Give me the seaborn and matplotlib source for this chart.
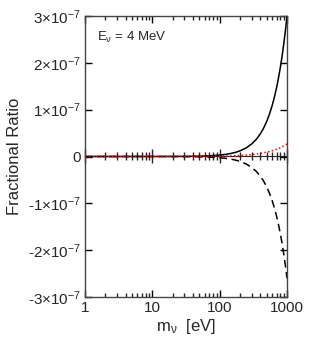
import numpy as np
import pandas as pd
import matplotlib
matplotlib.use("Agg")
import matplotlib.pyplot as plt
import seaborn as sns
from matplotlib.ticker import NullFormatter, LogLocator

sns.set_style("ticks")
plt.rcParams['font.family'] = ['Liberation Sans', 'DejaVu Sans']
plt.rcParams['mathtext.fontset'] = 'custom'
plt.rcParams['mathtext.rm'] = 'Liberation Sans'
plt.rcParams['mathtext.it'] = 'Liberation Sans:italic'
plt.rcParams['mathtext.sf'] = 'Liberation Sans'

# data (values in units of 1e-7)
mass = [1, 10, 20, 30, 50, 70, 100, 125, 150, 175, 200, 250, 300, 350, 400, 450,
        500, 550, 600, 650, 700, 750, 800, 850, 900, 950, 1000]
solid = [0, 0.0003, 0.0012, 0.0027, 0.0075, 0.0147, 0.03, 0.047, 0.0675, 0.092, 0.12,
         0.1875, 0.27, 0.3675, 0.48, 0.6075, 0.75, 0.9075, 1.08, 1.2675, 1.47, 1.6875,
         1.92, 2.1675, 2.43, 2.7075, 3.0]
dashed = [0, -0.0003, -0.001, -0.0023, -0.0065, -0.0127, -0.026, -0.041, -0.0585,
          -0.0796, -0.104, -0.1625, -0.234, -0.3185, -0.416, -0.5265, -0.65, -0.7865,
          -0.936, -1.0985, -1.274, -1.4625, -1.664, -1.8785, -2.106, -2.3465, -2.6]
dotted = [0, 0, 0.0002, 0.0005, 0.0015, 0.003, 0.006, 0.009, 0.013, 0.017, 0.021,
          0.031, 0.042, 0.054, 0.066, 0.08, 0.094, 0.108, 0.123, 0.139, 0.156, 0.173,
          0.191, 0.21, 0.229, 0.249, 0.27]
yticks = [-3, -2, -1, 0, 1, 2, 3]
ytick_labels = [r"-3$\times$10$^{-7}$", r"-2$\times$10$^{-7}$", r"-1$\times$10$^{-7}$", "0",
                r"1$\times$10$^{-7}$", r"2$\times$10$^{-7}$", r"3$\times$10$^{-7}$"]
xticks = [1, 10, 100, 1000]
xtick_labels = ["1", "10", "100", "1000"]

df = pd.DataFrame({"m": mass, "solid": np.array(solid) * 1e-7,
                   "dashed": np.array(dashed) * 1e-7, "dotted": np.array(dotted) * 1e-7})

fig = plt.figure(figsize=(3.10, 3.44), dpi=100)
ax = fig.add_axes([85/310, 1 - 297/344, 202/310, 281/344])

sns.lineplot(data=df, x="m", y="solid", ax=ax, color="black", lw=1.1)
sns.lineplot(data=df, x="m", y="dashed", ax=ax, color="black", lw=1.1, linestyle=(0, (5, 3)))
sns.lineplot(data=df, x="m", y="dotted", ax=ax, color="red", lw=1.1, linestyle=(0, (1, 1.5)))

ax.set_xscale("log")
ax.set_xlim(1, 1000)
ax.set_ylim(-3e-7, 3e-7)
ax.set_yticks([v * 1e-7 for v in yticks])
ax.set_yticklabels(ytick_labels)
ax.set_xticks(xticks)
ax.set_xticklabels(xtick_labels)
ax.xaxis.set_minor_locator(LogLocator(base=10, subs=np.arange(2, 10)))
ax.xaxis.set_minor_formatter(NullFormatter())

ax.tick_params(axis="both", which="major", direction="in", length=5, width=1,
               top=True, right=True, labelsize=11, pad=3, color="black")
ax.tick_params(axis="x", which="minor", direction="in", length=3, width=1,
               top=True, bottom=True)
for s in ax.spines.values():
    s.set_linewidth(1)
    s.set_color("#444444")

# zero line with crossing ticks
sec = ax.secondary_xaxis(0.5)
sec.set_xticks(xticks)
sec.xaxis.set_minor_locator(LogLocator(base=10, subs=np.arange(2, 10)))
sec.xaxis.set_minor_formatter(NullFormatter())
sec.tick_params(axis="x", which="major", direction="inout", length=10, width=1, labelbottom=False)
sec.tick_params(axis="x", which="minor", direction="inout", length=6, width=1)
sec.spines["bottom"].set_linewidth(1)
sec.set_xticklabels([])

ax.set_xlabel(r"m$_\mathrm{\nu}$  [eV]", fontsize=12, labelpad=1)
ax.set_ylabel("Fractional Ratio", fontsize=12, labelpad=4)
ax.text(0.06, 0.925, r"E$_\mathrm{\nu}$ = 4 MeV", transform=ax.transAxes, fontsize=9.5,
        va="center", ha="left")

fig.savefig("out.png", dpi=100)
